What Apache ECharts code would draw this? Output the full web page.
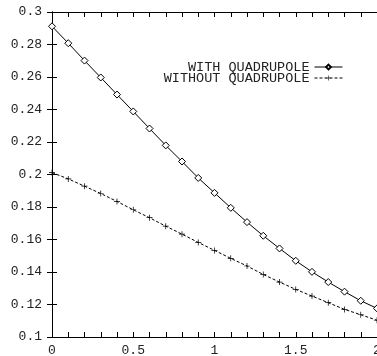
<!DOCTYPE html>
<html><head><meta charset="utf-8">
<script src="https://cdn.jsdelivr.net/npm/echarts@6/dist/echarts.min.js"></script>
<style>html,body{margin:0;padding:0;background:#fff}#c{width:377px;height:356px}</style>
</head><body><div id="c"></div>
<script>
const xValues = [0,0.1,0.2,0.3,0.4,0.5,0.6,0.7,0.8,0.9,1.0,1.1,1.2,1.3,1.4,1.5,1.6,1.7,1.8,1.9,2.0];
const withQuad = [0.2912,0.2808,0.2701,0.2597,0.2492,0.2388,0.2283,0.2179,0.2080,0.1979,0.1887,0.1795,0.1707,0.1623,0.1545,0.1469,0.1401,0.1338,0.1279,0.1223,0.1176];
const withoutQuad = [0.2012,0.1973,0.1928,0.1883,0.1834,0.1783,0.1734,0.1682,0.1633,0.1582,0.1533,0.1484,0.1437,0.1385,0.1338,0.1293,0.1252,0.1211,0.1170,0.1137,0.1103];
const seriesNames = ['WITH QUADRUPOLE','WITHOUT QUADRUPOLE'];
const xTicks = [0,0.5,1,1.5,2];
const yTicks = [0.1,0.12,0.14,0.16,0.18,0.2,0.22,0.24,0.26,0.28,0.3];

const font = 'Liberation Mono';
const pair = (ys) => xValues.map((x,i)=>[x, ys[i]]);
const plusPath = 'path://M4.4,0h1.2v10h-1.2zM0,4.4h10v1.2h-10z';

const tickStyle = {show:true, inside:true, length:5, lineStyle:{color:'#000', width:1}};
const axisLine = {show:true, lineStyle:{color:'#000', width:1}};

const chart = echarts.init(document.getElementById('c'), null, {renderer:'canvas'});
chart.setOption({
  animation:false,
  backgroundColor:'#fff',
  grid:{left:52, right:0, top:12, bottom:19, containLabel:false, outerBoundsMode:'none'},
  xAxis:[
    {type:'value', position:'bottom', min:xTicks[0], max:xTicks[xTicks.length-1], interval:0.5,
     axisLine:axisLine, axisTick:tickStyle, splitLine:{show:false},
     minorTick:{show:true, splitNumber:5, length:5, lineStyle:{color:'#000', width:1}},
     axisLabel:{fontFamily:font, fontSize:13, color:'#222', margin:7}},
    {type:'value', position:'top', min:xTicks[0], max:xTicks[xTicks.length-1], interval:0.5,
     axisLine:axisLine, axisTick:tickStyle, splitLine:{show:false},
     minorTick:{show:true, splitNumber:5, length:5, lineStyle:{color:'#000', width:1}},
     axisLabel:{show:false}}
  ],
  yAxis:[
    {type:'value', position:'left', min:yTicks[0], max:yTicks[yTicks.length-1], interval:0.02,
     axisLine:axisLine, axisTick:tickStyle, splitLine:{show:false},
     axisLabel:{fontFamily:font, fontSize:13, color:'#222', margin:10}},
    {type:'value', position:'right', min:yTicks[0], max:yTicks[yTicks.length-1], interval:0.02,
     axisLine:axisLine, axisTick:tickStyle, splitLine:{show:false},
     axisLabel:{show:false}}
  ],
  legend:[
    {data:[seriesNames[0]], right:29, top:55, align:'right', itemWidth:28, itemHeight:6, orient:'vertical',
     lineStyle:{width:1}, textStyle:{fontFamily:font, fontSize:13.5, color:'#222'}, selectedMode:false},
    {data:[seriesNames[1]], right:29, top:66, align:'right', itemWidth:28, itemHeight:6, orient:'vertical',
     lineStyle:{width:1}, textStyle:{fontFamily:font, fontSize:13.5, color:'#222'}, selectedMode:false}
  ],
  series:[
    {name:seriesNames[0], type:'line', data:pair(withQuad), symbol:'diamond', symbolSize:7,
     showAllSymbol:true, itemStyle:{color:'#fff', borderColor:'#000', borderWidth:1},
     lineStyle:{color:'#000', width:1}, color:'#000'},
    {name:seriesNames[1], type:'line', data:pair(withoutQuad), symbol:plusPath, symbolSize:6,
     showAllSymbol:true, itemStyle:{color:'#000', borderWidth:0},
     lineStyle:{color:'#000', width:1, type:[3,2]}, color:'#000'}
  ]
});
</script></body></html>
